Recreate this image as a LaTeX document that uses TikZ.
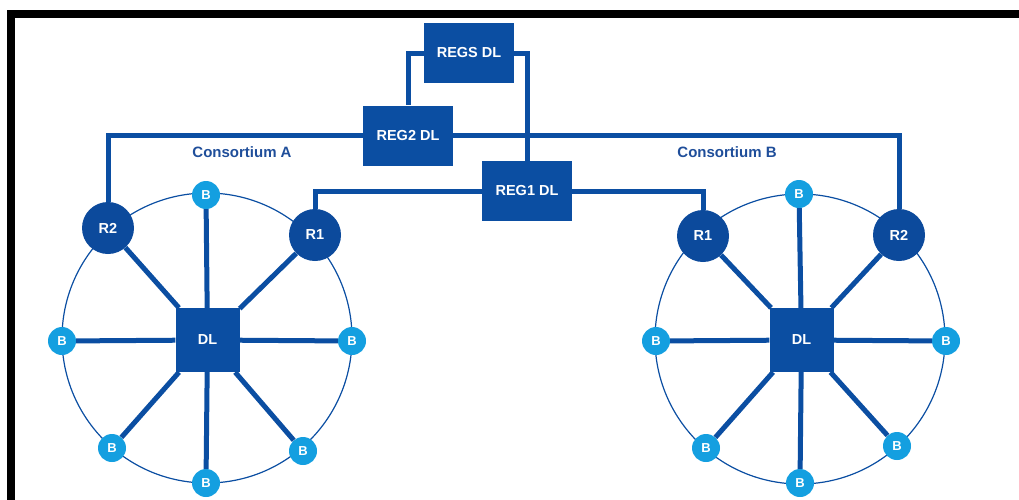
\documentclass[tikz,border=0pt]{standalone}
\usepackage{fontspec}
\setmainfont{Liberation Sans}
\definecolor{navy}{HTML}{0B4EA2}
\definecolor{rblue}{HTML}{0C4A9C}
\definecolor{sky}{HTML}{149FE0}
\definecolor{captxt}{HTML}{1F4E9A}
\begin{document}
\begin{tikzpicture}[x=1pt,y=-1pt,
  box/.style={fill=navy,minimum width=90pt,minimum height=60pt,inner sep=0pt,
    text=white,font=\fontsize{14.5}{16}\selectfont\bfseries},
  hub/.style={fill=navy,minimum size=64pt,inner sep=0pt,
    text=white,font=\fontsize{14.5}{16}\selectfont\bfseries},
  rnode/.style={circle,fill=rblue,minimum size=52pt,inner sep=0pt,
    text=white,font=\fontsize{14.5}{16}\selectfont\bfseries},
  bnode/.style={circle,fill=sky,minimum size=28pt,inner sep=0pt,
    text=white,font=\fontsize{13}{14}\selectfont\bfseries},
  link/.style={draw=navy,line width=5pt},
  spoke/.style={draw=navy,line width=5pt},
  ring/.style={draw=navy,line width=1.2pt},
  caption/.style={text=captxt,font=\fontsize{15}{17}\selectfont\bfseries},
  frame/.style={draw=black,line width=8pt,line join=miter}]
\useasboundingbox (0,0) rectangle (1019,499);

% outer frame
\draw[frame] (11,510) -- (11,14) -- (1030,14);

% consortium rings
\draw[ring] (207,338) circle[radius=145];
\draw[ring] (800,339) circle[radius=145];

% regulator data ledgers
\node[box] (regs) at (469,53) {REGS DL};
\node[box] (reg2) at (408,135.5) {REG2 DL};
\node[box] (reg1) at (527,191) {REG1 DL};

% consortium A
\node[hub] (dla) at (207.5,340) {DL};
\node[rnode] (r2a) at (108,228) {R2};
\node[rnode] (r1a) at (315,235) {R1};
\node[bnode] (ba1) at (206,195) {B};
\node[bnode] (ba2) at (62,341) {B};
\node[bnode] (ba3) at (352,341) {B};
\node[bnode] (ba4) at (206,483) {B};
\node[bnode] (ba5) at (112,448) {B};
\node[bnode] (ba6) at (303,451) {B};

% consortium B
\node[hub] (dlb) at (801.5,340) {DL};
\node[rnode] (r1b) at (703,236) {R1};
\node[rnode] (r2b) at (899,235) {R2};
\node[bnode] (bb1) at (799,194) {B};
\node[bnode] (bb2) at (656,341) {B};
\node[bnode] (bb3) at (946,341) {B};
\node[bnode] (bb4) at (800,483) {B};
\node[bnode] (bb5) at (706,448) {B};
\node[bnode] (bb6) at (897,446) {B};

% captions
\node[caption] (capa) at (242,152) {Consortium A};
\node[caption] (capb) at (727,152) {Consortium B};

% hub spokes
\foreach \n in {r2a,r1a,ba1,ba2,ba3,ba4,ba5,ba6}
  \draw[spoke] (dla) -- (\n);
\foreach \n in {r1b,r2b,bb1,bb2,bb3,bb4,bb5,bb6}
  \draw[spoke] (dlb) -- (\n);

% regulator links
\draw[link] (regs.west) -| (reg2.north);
\draw[link] (regs.east) -| (reg1.north);
\draw[link] (reg2.west) -| (r2a.north);
\draw[link] (reg2.east) -| (r2b.north);
\draw[link] (reg1.west) -| (r1a.north);
\draw[link] (reg1.east) -| (r1b.north);
\end{tikzpicture}
\end{document}
